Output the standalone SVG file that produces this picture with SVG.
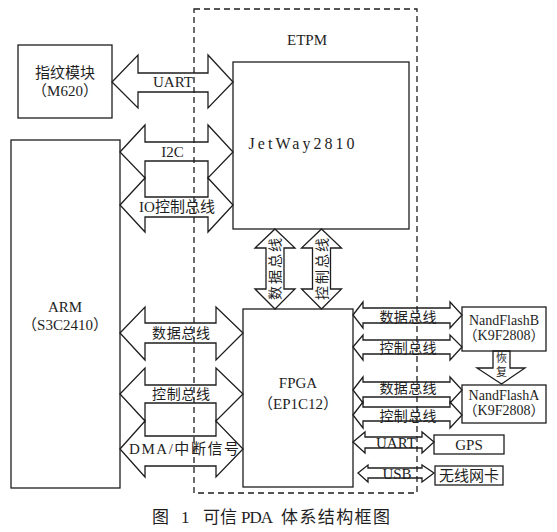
<svg xmlns="http://www.w3.org/2000/svg" width="557" height="532" viewBox="0 0 557 532">
<style>
.box{fill:none;stroke:#1e1e1e;stroke-width:1.3}
.arr{fill:none;stroke:#1e1e1e;stroke-width:1.3;stroke-linejoin:miter}
.dash{fill:none;stroke:#1e1e1e;stroke-width:1.3;stroke-dasharray:6 4}
.t{font-family:'Liberation Serif','Times New Roman','DejaVu Serif','Noto Sans CJK SC',serif;font-size:15px;fill:#1e1e1e;text-anchor:middle}
.s{font-size:14px}
.n{font-size:14px}
.cap{font-family:'Liberation Serif','Times New Roman','DejaVu Serif','Noto Sans CJK SC',serif;font-size:17px;fill:#1e1e1e}
</style>
<rect width="557" height="532" fill="#fff"/>

<g id="fingerprint">
<rect class="box" x="18" y="45" width="94" height="73"/>
<text class="t" x="65" y="78">指纹模块</text>
<text class="t" x="65" y="96">（M620）</text>
</g>

<g id="arm">
<rect class="box" x="11" y="140" width="109" height="348"/>
<text class="t" x="65" y="312">ARM</text>
<text class="t" x="65" y="330">（S3C2410）</text>
</g>

<g id="etpm">
<rect class="dash" x="194" y="9" width="223" height="484"/>
<text class="t" x="307" y="45">ETPM</text>
</g>

<g id="jetway">
<rect class="box" x="233" y="62" width="176" height="167"/>
<text class="t" x="301.5" y="149" style="font-size:16px" textLength="106" lengthAdjust="spacing">JetWay2810</text>
</g>

<g id="fpga">
<rect class="box" x="243" y="309" width="110" height="178"/>
<text class="t" x="298" y="388">FPGA</text>
<text class="t" x="298" y="409">（EP1C12）</text>
</g>

<g id="nandflashb">
<rect class="box" x="462" y="307" width="84" height="44"/>
<text class="t n" x="504" y="325">NandFlashB</text>
<text class="t n" x="504" y="340">（K9F2808）</text>
</g>

<g id="nandflasha">
<rect class="box" x="462" y="385" width="84" height="38"/>
<text class="t n" x="504" y="400">NandFlashA</text>
<text class="t n" x="504" y="415">（K9F2808）</text>
</g>

<g id="gps">
<rect class="box" x="434" y="435" width="70" height="19"/>
<text class="t" x="469" y="450">GPS</text>
</g>

<g id="wifi">
<rect class="box" x="435" y="466" width="68" height="19"/>
<text class="t" x="469" y="481">无线网卡</text>
</g>

<g id="connectors">
<polygon class="arr" points="112,82 138,55 138,73 208,73 208,55 233,82 208,108 208,92 138,92 138,108"/>
<text class="t" x="173" y="87">UART</text>
<polygon class="arr" points="120,152 145,125 145,142 208,142 208,125 233,152 208,178 208,161 145,161 145,178"/>
<text class="t" x="172.5" y="157">I2C</text>
<polygon class="arr" points="120,205 145,178 145,197 208,197 208,178 233,205 208,232 208,217 145,217 145,232"/>
<text class="t" x="177" y="212">IO控制总线</text>
<polygon class="arr" points="120,333 145,307 145,323 216,323 216,307 243,333 216,360 216,343 145,343 145,360"/>
<text class="t s" x="181" y="338" textLength="58" lengthAdjust="spacing">数据总线</text>
<polygon class="arr" points="120,394 145,368 145,385 216,385 216,368 243,394 216,421 216,403 145,403 145,421"/>
<text class="t s" x="181" y="399" textLength="58" lengthAdjust="spacing">控制总线</text>
<polygon class="arr" points="120,449 145,421 145,436 216,436 216,421 243,449 216,477 216,466 145,466 145,477"/>
<text class="t" x="184" y="454" textLength="110" lengthAdjust="spacing">DMA/中断信号</text>
<polygon class="arr" points="275,229 295,248 284,248 284,289 295,289 275,309 255,289 266,289 266,248 255,248"/>
<text class="t s" transform="translate(275,269) rotate(-90)" x="0" y="5" textLength="62" lengthAdjust="spacing">数据总线</text>
<polygon class="arr" points="321.5,229 341.5,248 330.5,248 330.5,289 341.5,289 321.5,309 301.5,289 312.5,289 312.5,248 301.5,248"/>
<text class="t s" transform="translate(321.5,269) rotate(-90)" x="0" y="5" textLength="62" lengthAdjust="spacing">控制总线</text>
<polygon class="arr" points="353,315 363,302 363,308 450,308 450,302 462,315 450,328 450,323 363,323 363,328"/>
<text class="t s" x="408" y="322" textLength="57" lengthAdjust="spacing">数据总线</text>
<polygon class="arr" points="353,347 363,335 363,340 450,340 450,335 462,347 450,360 450,354 363,354 363,360"/>
<text class="t s" x="408" y="353" textLength="57" lengthAdjust="spacing">控制总线</text>
<polygon class="arr" points="353,390 363,377 363,382 450,382 450,377 462,390 450,403 450,397 363,397 363,403"/>
<text class="t s" x="408" y="393" textLength="57" lengthAdjust="spacing">数据总线</text>
<polygon class="arr" points="353,415 363,402 363,407 450,407 450,402 462,415 450,428 450,421 363,421 363,428"/>
<text class="t s" x="408" y="421" textLength="57" lengthAdjust="spacing">控制总线</text>
<polygon class="arr" points="493,351 510,351 510,368 525,368 501.5,384 477,368 493,368"/>
<text class="t" x="501.5" y="362" style="font-size:11px">恢</text>
<text class="t" x="501.5" y="376" style="font-size:11px">复</text>
<polygon class="arr" points="353,442 365,432 365,437 422,437 422,432 434,442 422,453 422,448 365,448 365,453"/>
<text class="t" x="396" y="448">UART</text>
<polygon class="arr" points="358,473 368,465 368,468 422,468 422,465 434,473 422,482 422,478 368,478 368,482"/>
<text class="t" x="397" y="479">USB</text>
</g>

<text class="cap" x="152" y="523">图</text>
<text class="cap" x="181" y="523">1</text>
<text class="cap" x="203" y="523">可信</text>
<text class="cap" x="241" y="523" textLength="32" lengthAdjust="spacing">PDA</text>
<text class="cap" x="281" y="523" textLength="109" lengthAdjust="spacing">体系结构框图</text>
</svg>
